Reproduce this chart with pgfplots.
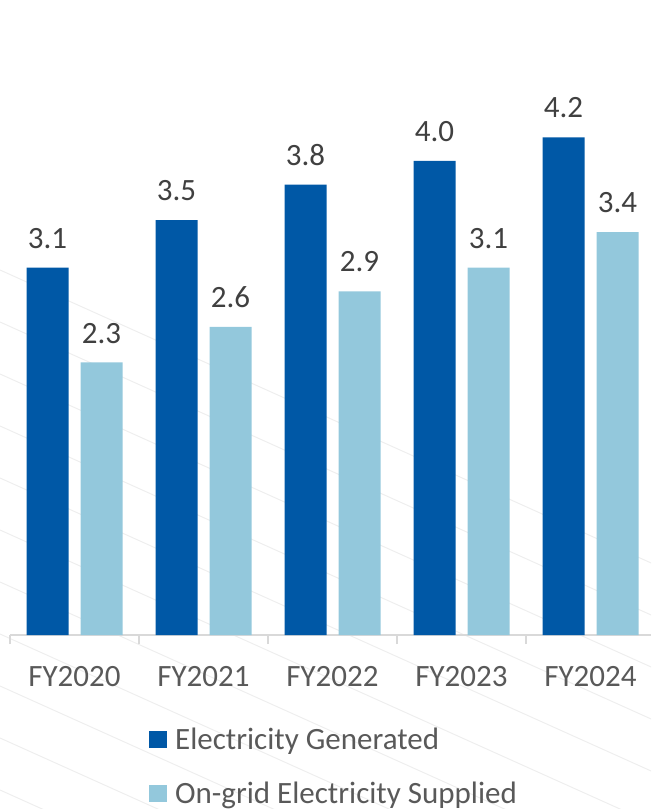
\documentclass[border=0pt]{standalone}
\usepackage{pgfplots}
\pgfplotsset{compat=1.18}
\usepackage{fontspec}
\setmainfont{Carlito}

\definecolor{genblue}{HTML}{0058A6}
\definecolor{gridblue}{HTML}{93C8DC}
\definecolor{labelgrey}{HTML}{595959}
\definecolor{valgrey}{HTML}{404040}
\definecolor{axisgrey}{HTML}{D9D9D9}
\definecolor{bgline}{HTML}{EEEEEE}

\begin{document}
\begin{tikzpicture}
% faint diagonal background pattern (picture px: x-10, 635-y)
\begin{scope}
\clip (-10pt,-174pt) rectangle (641pt,635pt);
\foreach \y in {270,322,...,800} {
  \draw[bgline, line width=1pt] (-10pt,{(635-\y)*1pt}) -- ++(660pt,-297pt);
}
\end{scope}
\begin{axis}[
    x=129pt, y=118.5pt,
    xmin=-0.5, xmax=4.47,
    ymin=0, ymax=5.36,
    axis y line=none,
    axis x line*=bottom,
    x axis line style={draw=axisgrey, line width=1.5pt},
    xtick={0,1,2,3,4},
    xticklabels={FY2020,FY2021,FY2022,FY2023,FY2024},
    major tick length=0pt,
    minor xtick={-0.5,0.5,1.5,2.5,3.5},
    minor tick length=9pt,
    tick align=outside,
    minor tick style={draw=axisgrey, line width=1.5pt},
    xticklabel style={font=\fontsize{31}{36}\selectfont, text=labelgrey, inner sep=0pt, yshift=-31pt},
    ybar, bar width=42pt,
    /pgf/number format/assume math mode=true,
    nodes near coords={\pgfmathprintnumber[fixed,fixed zerofill,precision=1]{\pgfplotspointmeta}},
    every node near coord/.append style={font=\fontsize{31}{36}\selectfont, text=valgrey, anchor=south, inner sep=0pt, yshift=19pt},
    legend cell align=left,
    legend style={at={(0.212,-0.1424)}, anchor=north west, draw=none, fill=none,
        font=\fontsize{31}{36}\selectfont, text=labelgrey,
        nodes={inner sep=0pt}, row sep=31pt,
        /tikz/every odd column/.append style={column sep=8pt}},
    legend image code/.code={\fill[#1] (0pt,-8.5pt) rectangle (18pt,8.5pt);},
    clip=false,
]
\addplot[fill=genblue, draw=none, bar shift=-27pt] coordinates {(0,3.1) (1,3.5) (2,3.8) (3,4.0) (4,4.2)};
\addplot[fill=gridblue, draw=none, bar shift=27pt] coordinates {(0,2.3) (1,2.6) (2,2.9) (3,3.1) (4,3.4)};
\legend{Electricity Generated, On-grid Electricity Supplied}
\end{axis}
\end{tikzpicture}
\end{document}
